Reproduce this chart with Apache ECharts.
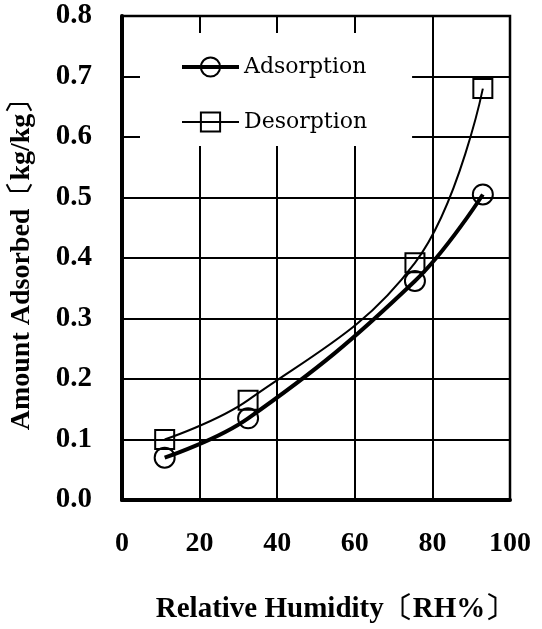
<!DOCTYPE html>
<head>
    <meta charset="utf-8">
    <title>Amount Adsorbed vs Relative Humidity</title>
    <script src="https://cdn.jsdelivr.net/npm/echarts@6/dist/echarts.min.js"></script>
    <style>
        html, body { margin: 0; padding: 0; background: #fff; }
        #main { width: 542px; height: 629px; }
    </style>
</head>

<body>
    <div id="main"></div>
    <script>
        // values
        var humidity = [11, 32.5, 75.5, 93];
        var adsorption = [0.07, 0.135, 0.362, 0.505];
        var desorption = [0.10, 0.165, 0.392, 0.68];
        var seriesNames = ['Adsorption', 'Desorption'];

        function pairs(xs, ys) {
            return xs.map(function (x, i) { return [x, ys[i]]; });
        }

        var serif = '"Liberation Serif", "Times New Roman", serif';

        var myChart = echarts.init(document.getElementById('main'));

        var option = {
            backgroundColor: '#fff',
            animation: false,
            grid: {
                left: 122,
                right: 32,
                top: 16,
                bottom: 129,
                show: true,
                borderColor: '#000',
                borderWidth: 2.5
            },
            legend: {
                data: [
                    { name: seriesNames[0], lineStyle: { width: 4 } },
                    { name: seriesNames[1], lineStyle: { width: 2 } }
                ],
                orient: 'vertical',
                left: 140,
                top: 33,
                padding: [23, 45, 13, 40],
                backgroundColor: '#fff',
                itemWidth: 57,
                itemHeight: 24,
                itemGap: 33,
                itemTextGap: 5,
                textStyle: {
                    fontFamily: '"DejaVu Serif", serif',
                    fontSize: 22,
                    color: '#000'
                }
            },
            xAxis: {
                type: 'value',
                min: 0,
                max: 100,
                interval: 20,
                name: 'Relative Humidity〔RH%〕',
                nameLocation: 'middle',
                nameGap: 95,
                nameTextStyle: {
                    fontFamily: serif,
                    fontWeight: 'bold',
                    fontSize: 29,
                    color: '#000',
                    padding: [0, 0, 0, 38]
                },
                axisLine: { show: true, lineStyle: { color: '#000', width: 4 } },
                axisTick: { show: false },
                axisLabel: {
                    margin: 30,
                    fontFamily: serif,
                    fontWeight: 'bold',
                    fontSize: 28,
                    color: '#000'
                },
                splitLine: { show: true, lineStyle: { color: '#000', width: 2 } }
            },
            yAxis: {
                type: 'value',
                min: 0,
                max: 0.8,
                interval: 0.1,
                name: 'Amount Adsorbed〔kg/kg〕',
                nameLocation: 'middle',
                nameGap: 86,
                nameRotate: 90,
                nameTextStyle: {
                    fontFamily: serif,
                    fontWeight: 'bold',
                    fontSize: 28,
                    color: '#000'
                },
                axisLine: { show: true, lineStyle: { color: '#000', width: 4 } },
                axisTick: { show: false },
                axisLabel: {
                    margin: 30,
                    fontFamily: serif,
                    fontWeight: 'bold',
                    fontSize: 29,
                    color: '#000',
                    formatter: function (v) { return v.toFixed(1); }
                },
                splitLine: { show: true, lineStyle: { color: '#000', width: 2 } }
            },
            series: [
                {
                    name: seriesNames[0],
                    type: 'line',
                    smooth: 0.4,
                    data: pairs(humidity, adsorption),
                    symbol: 'circle',
                    symbolSize: 20,
                    itemStyle: { color: 'rgba(0,0,0,0)', borderColor: '#000', borderWidth: 2 },
                    lineStyle: { color: '#000', width: 4 }
                },
                {
                    name: seriesNames[1],
                    type: 'line',
                    smooth: 0.4,
                    data: pairs(humidity, desorption),
                    symbol: 'rect',
                    symbolSize: 19,
                    itemStyle: { color: 'rgba(0,0,0,0)', borderColor: '#000', borderWidth: 2 },
                    lineStyle: { color: '#000', width: 2 }
                }
            ]
        };

        option && myChart.setOption(option);

        window.onresize = function () {
            myChart.resize();
        };
    </script>
</body>
